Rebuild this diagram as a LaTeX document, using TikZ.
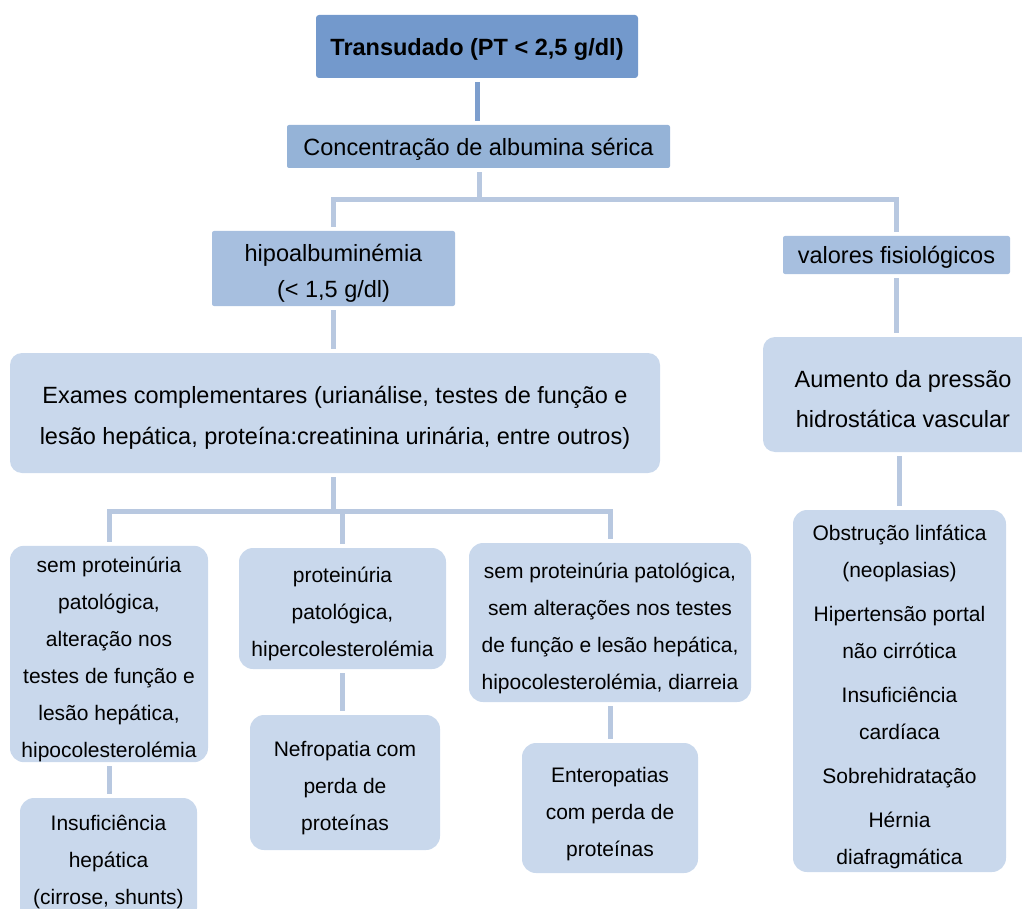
\documentclass[tikz,border=0pt]{standalone}
\usepackage{fontspec}
\setmainfont{Liberation Sans}
\usetikzlibrary{positioning}
\definecolor{boxDark}{RGB}{115,153,204}
\definecolor{boxMid}{RGB}{149,179,215}
\definecolor{boxSoft}{RGB}{167,191,223}
\definecolor{boxLight}{RGB}{201,216,236}
\definecolor{lineDark}{RGB}{125,158,205}
\definecolor{lineLight}{RGB}{184,200,224}
\newcommand{\lift}{\rule{0pt}{27pt}}

\begin{document}
\begin{tikzpicture}[
    x=1pt, y=-1pt,
    font=\fontsize{21}{37}\selectfont,
    hdr/.style={rectangle, rounded corners=2pt, fill=boxSoft, align=center, inner sep=0pt,
        font=\fontsize{23.5}{37}\selectfont},
    box/.style={rectangle, rounded corners=14pt, fill=boxLight, align=center, inner sep=0pt},
    link/.style={line width=5pt, draw=lineLight, shorten <=4pt, shorten >=4pt},
    stem/.style={line width=5pt, draw=lineLight, shorten <=4pt}
]
\useasboundingbox (0,0) rectangle (1022,909);
\clip (0,0) rectangle (1022,909);

\node[hdr, fill=boxDark, rounded corners=3pt, minimum width=322pt, minimum height=63pt,
    font=\fontsize{23.5}{37}\selectfont\bfseries] (trans) at (477,46.5) {\rule{0pt}{22pt}Transudado (PT < 2,5 g/dl)};
\node[hdr, fill=boxMid, minimum width=383pt, minimum height=43pt] (conc) at (478.5,146.5) {\rule{0pt}{22pt}Concentração de albumina sérica};
\node[hdr, minimum width=243pt, minimum height=75pt, font=\fontsize{23.5}{36}\selectfont] (hipo) at (333.5,268.5) {\rule{0pt}{26pt}hipoalbuminémia\\(< 1,5 g/dl)};
\node[hdr, minimum width=227pt, minimum height=38pt] (fisio) at (896.5,255) {\rule{0pt}{22pt}valores fisiológicos};

\node[box, rounded corners=12pt, minimum width=650pt, minimum height=120pt, font=\fontsize{23.5}{41}\selectfont] (exames) at (335,413)
    {\lift Exames complementares (urianálise, testes de função e\\lesão hepática, proteína:creatinina urinária, entre outros)};
\node[box, rounded corners=12pt, minimum width=280pt, minimum height=115pt, font=\fontsize{23.5}{40}\selectfont] (aumento) at (903,394.5)
    {\lift Aumento da pressão\\hidrostática vascular};

\node[box, minimum width=198pt, minimum height=208pt] (semprot) at (109,654)
    {\lift sem proteinúria\\patológica,\\alteração nos\\testes de função e\\lesão hepática,\\hipocolesterolémia};
\node[box, minimum width=207pt, minimum height=121pt] (prot) at (342.5,608.5)
    {\lift proteinúria\\patológica,\\hipercolesterolémia};
\node[box, minimum width=282pt, minimum height=159pt] (semdiar) at (610,622.5)
    {\lift sem proteinúria patológica,\\sem alterações nos testes\\de função e lesão hepática,\\hipocolesterolémia, diarreia};

\node[box, minimum width=177pt, minimum height=124pt] (insuf) at (108.5,860)
    {\rule{0pt}{20pt}Insuficiência\\hepática\\(cirrose, shunts)};
\node[box, minimum width=190pt, minimum height=135pt] (nefro) at (345,782.5)
    {\lift Nefropatia com\\perda de\\proteínas};
\node[box, minimum width=176pt, minimum height=130pt] (entero) at (610,808)
    {\lift Enteropatias\\com perda de\\proteínas};
\node[box, minimum width=213pt, minimum height=362pt] (causas) at (899.5,691)
    {\lift Obstrução linfática\\(neoplasias)\\[7pt]Hipertensão portal\\não cirrótica\\[7pt]Insuficiência\\cardíaca\\[7pt]Sobrehidratação\\[7pt]Hérnia\\diafragmática};

% connectors
\coordinate (j1) at (479,200);
\coordinate (j2) at (333,511);
\draw[link, draw=lineDark] (trans.south) -- (trans.south |- conc.north);
\draw[stem] (conc.south -| j1) -- (j1);
\draw[link] (hipo.north) |- (j1) -| (fisio.north);
\draw[stem] (j2 |- exames.south) -- (j2);
\draw[link] (semprot.north) |- (j2) -| (semdiar.north);
\draw[stem] (prot.north) -- (prot.north |- j2);
\foreach \a/\b in {hipo/exames, fisio/aumento, semprot/insuf, prot/nefro, semdiar/entero}
    \draw[link] (\a.south) -- (\a.south |- \b.north);
\draw[link] (causas.north |- aumento.south) -- (causas.north);
\end{tikzpicture}
\end{document}
